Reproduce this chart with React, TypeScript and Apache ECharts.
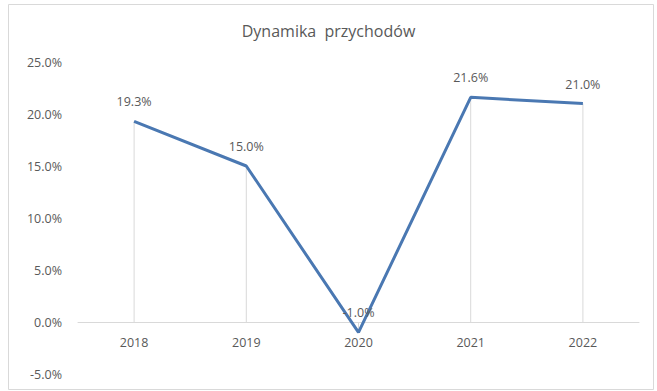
import React, { useEffect, useRef } from "react";
import * as echarts from "echarts";

const years = ["2018", "2019", "2020", "2021", "2022"];
const growth = [19.3, 15.0, -1.0, 21.6, 21.0];
const chartTitle = "Dynamika  przychodów";

const FONT = "'Open Sans', 'Noto Sans', sans-serif";
const TEXT = "#595959";
const LINE = "#4a78b2";

export default function App() {
  const ref = useRef<HTMLDivElement>(null);

  useEffect(() => {
    if (!ref.current) return;
    const chart = echarts.init(ref.current, undefined, { renderer: "svg" });
    chart.setOption({
      animation: false,
      backgroundColor: "#ffffff",
      textStyle: { fontFamily: FONT },
      title: {
        text: chartTitle,
        left: "center",
        top: 18,
        textStyle: { fontFamily: FONT, fontSize: 16, fontWeight: "normal", color: TEXT },
      },
      graphic: [
        {
          type: "rect",
          shape: { x: 8.5, y: 4.5, width: 645, height: 385 },
          style: { fill: "none", stroke: "#d9d9d9", lineWidth: 1 },
          silent: true,
        },
      ],
      grid: { left: 78, right: 18, top: 62, bottom: 17, outerBoundsMode: "none" },
      xAxis: {
        type: "category",
        data: years,
        axisLine: { onZero: true, lineStyle: { color: "#d9d9d9", width: 1 } },
        axisTick: { show: false },
        // labels sit just under the zero line
        axisLabel: { color: TEXT, fontSize: 12.5, fontFamily: FONT, margin: -38 },
        splitLine: { show: false },
      },
      yAxis: {
        type: "value",
        min: -5,
        max: 25,
        interval: 5,
        axisLine: { show: false },
        axisTick: { show: false },
        splitLine: { show: false },
        axisLabel: {
          color: TEXT,
          fontSize: 12.5,
          fontFamily: FONT,
          margin: 16,
          formatter: (v: number) => `${v.toFixed(1)}%`,
        },
      },
      series: [
        {
          // drop lines from each point to the zero axis
          type: "bar",
          data: growth,
          barWidth: 1,
          itemStyle: { color: "#d9d9d9" },
          silent: true,
          z: 1,
        },
        {
          type: "line",
          data: growth,
          symbol: "circle",
          symbolSize: 0,
          showSymbol: true,
          itemStyle: { color: LINE },
          lineStyle: { color: LINE, width: 3 },
          z: 3,
          label: {
            show: true,
            position: "top",
            distance: 13,
            color: TEXT,
            fontSize: 12.5,
            fontFamily: FONT,
            formatter: (p: any) => `${Number(p.value).toFixed(1)}%`,
          },
        },
      ],
    });
    return () => chart.dispose();
  }, []);

  return (
    <div
      ref={ref}
      style={{ position: "fixed", left: 0, top: 0, width: 657, height: 391 }}
    />
  );
}
